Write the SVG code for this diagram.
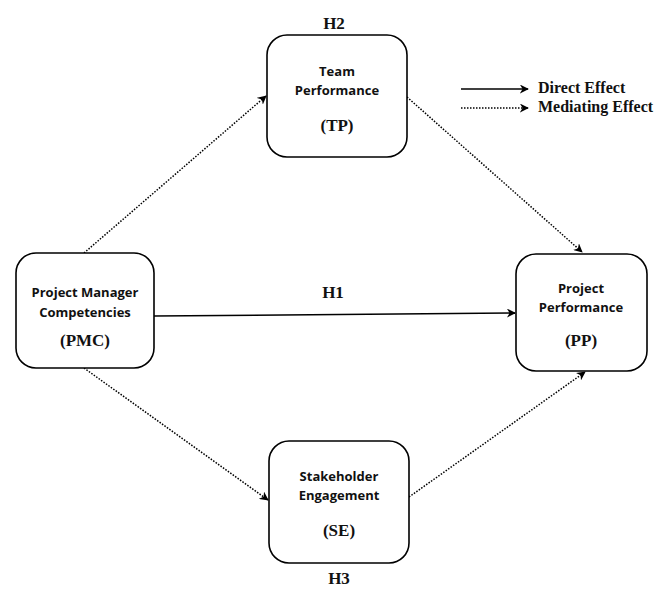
<svg xmlns="http://www.w3.org/2000/svg" width="669" height="590" viewBox="0 0 669 590">
<style>
.box{fill:#fff;stroke:#000;stroke-width:1.6}
.lbl{font-family:"Open Sans","Liberation Sans",sans-serif;font-weight:bold;font-size:13px;text-anchor:middle;fill:#111}
.abbr{font-family:"Liberation Serif",serif;font-weight:bold;font-size:17px;text-anchor:middle;fill:#111}
.h{font-family:"Liberation Serif",serif;font-weight:bold;font-size:17px;text-anchor:middle;fill:#111}
.leg{font-family:"Liberation Serif",serif;font-weight:bold;font-size:16px;fill:#111}
.solid{stroke:#000;stroke-width:1.5;fill:none}
.dot{stroke:#000;stroke-width:1.5;fill:none;stroke-dasharray:1.5 1.5}
</style>
<defs>
<marker id="ah" viewBox="0 0 10 10" refX="9" refY="5" markerWidth="9" markerHeight="9" markerUnits="userSpaceOnUse" orient="auto">
<path d="M0,0 L10,5 L0,10 L3,5 z" fill="#000"/>
</marker>
</defs>
<g id="connectors">
<line class="solid" x1="154" y1="316" x2="515" y2="313" marker-end="url(#ah)"/>
<line class="dot" x1="84" y1="253" x2="266" y2="96" marker-end="url(#ah)"/>
<line class="dot" x1="407" y1="97" x2="582" y2="252" marker-end="url(#ah)"/>
<line class="dot" x1="84" y1="368" x2="268" y2="500" marker-end="url(#ah)"/>
<line class="dot" x1="409" y1="497" x2="585" y2="372" marker-end="url(#ah)"/>
</g>
<g id="legend">
<line class="solid" x1="461" y1="89" x2="528" y2="89" marker-end="url(#ah)"/>
<line class="dot" x1="461" y1="108" x2="528" y2="108" marker-end="url(#ah)"/>
<text class="leg" x="538" y="93">Direct Effect</text>
<text class="leg" x="538" y="112">Mediating Effect</text>
</g>
<g id="TP">
<rect class="box" x="267" y="35" width="140" height="122" rx="20"/>
<text class="lbl" x="337" y="76">Team</text>
<text class="lbl" x="337" y="95">Performance</text>
<text class="abbr" x="337" y="131">(TP)</text>
</g>
<g id="PMC">
<rect class="box" x="16" y="253" width="138" height="115" rx="20"/>
<text class="lbl" x="85" y="297">Project Manager</text>
<text class="lbl" x="85" y="317">Competencies</text>
<text class="abbr" x="85" y="346">(PMC)</text>
</g>
<g id="PP">
<rect class="box" x="516" y="254" width="131" height="117" rx="20"/>
<text class="lbl" x="581" y="293">Project</text>
<text class="lbl" x="581" y="312">Performance</text>
<text class="abbr" x="581" y="346">(PP)</text>
</g>
<g id="SE">
<rect class="box" x="269" y="441" width="140" height="122" rx="20"/>
<text class="lbl" x="339" y="481">Stakeholder</text>
<text class="lbl" x="339" y="500">Engagement</text>
<text class="abbr" x="339" y="536">(SE)</text>
</g>
<g id="hyp">
<text class="h" x="334" y="29">H2</text>
<text class="h" x="333" y="298">H1</text>
<text class="h" x="339" y="584">H3</text>
</g>
</svg>
